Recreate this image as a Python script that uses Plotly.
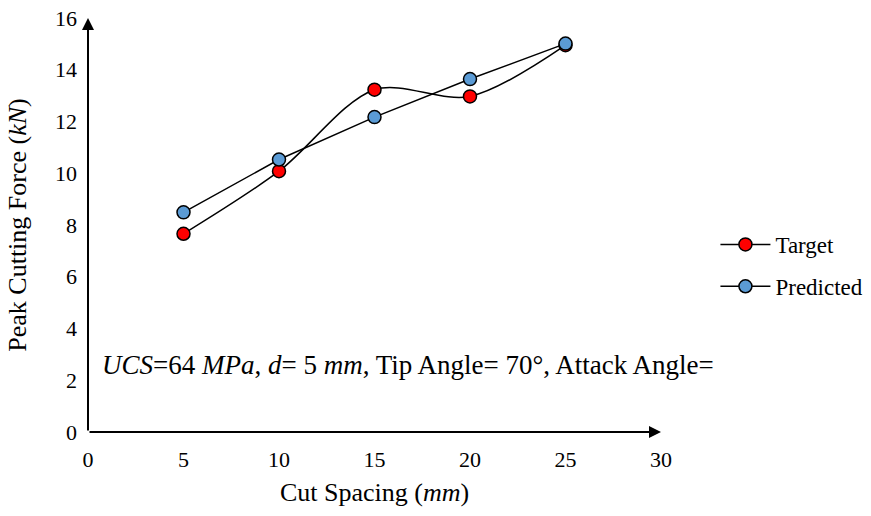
import plotly.graph_objects as go

# Cut spacing (mm) and peak cutting force (kN)
cut_spacing = [5, 10, 15, 20, 25]
target = [7.66, 10.08, 13.23, 12.97, 14.95]
predicted = [8.49, 10.53, 12.17, 13.64, 15.01]

x_ticks = [0, 5, 10, 15, 20, 25, 30]
y_ticks = [0, 2, 4, 6, 8, 10, 12, 14, 16]

FONT = "Times New Roman"

fig = go.Figure()
fig.add_trace(go.Scatter(
    x=cut_spacing, y=target, name="Target", mode="lines+markers", legendgroup="t",
    line=dict(color="black", width=1.5, shape="spline", smoothing=0.9),
    marker=dict(color="#FF0000", size=13, line=dict(color="black", width=1.5)),
))
fig.add_trace(go.Scatter(
    x=cut_spacing, y=predicted, name="Predicted", mode="lines+markers", legendgroup="p",
    line=dict(color="black", width=1.5),
    marker=dict(color="#5B9BD5", size=13, line=dict(color="black", width=1.5)),
))

# Axis lines with arrowheads
fig.add_annotation(x=30, y=0, ax=0, ay=0, xref="x", yref="y", axref="x", ayref="y",
                   showarrow=True, arrowhead=2, arrowsize=1.2, arrowwidth=2,
                   arrowcolor="black", text="")
fig.add_annotation(x=0, y=16, ax=0, ay=0, xref="x", yref="y", axref="x", ayref="y",
                   showarrow=True, arrowhead=2, arrowsize=1.2, arrowwidth=2,
                   arrowcolor="black", text="")

fig.add_annotation(
    x=0.62, y=2.59, xref="x", yref="y", xanchor="left", yanchor="middle",
    showarrow=False,
    text="<i>UCS</i>=64 <i>MPa</i>, <i>d</i>= 5 <i>mm</i>, Tip Angle= 70°, Attack Angle=",
    font=dict(family=FONT, size=27, color="black"),
)

fig.update_layout(
    width=871, height=516,
    margin=dict(l=88, r=210, t=18, b=84, autoexpand=False),
    paper_bgcolor="white", plot_bgcolor="white",
    font=dict(family=FONT, size=22, color="black"),
    showlegend=True,
    legend=dict(x=1.095, y=0.505, xanchor="left", yanchor="top", itemwidth=50,
                font=dict(family=FONT, size=23), tracegroupgap=9,
                bgcolor="rgba(0,0,0,0)"),
    xaxis=dict(range=[0, 30], tickvals=x_ticks, showgrid=False, zeroline=False,
               showline=False, ticks="", ticklabelstandoff=12,
               title=dict(text="Cut Spacing (<i>mm</i>)", standoff=11,
                          font=dict(family=FONT, size=26))),
    yaxis=dict(range=[0, 16], tickvals=y_ticks, showgrid=False, zeroline=False,
               showline=False, ticks="", ticklabelstandoff=10,
               title=dict(text="Peak Cutting Force (<i>kN</i>)", standoff=20,
                          font=dict(family=FONT, size=26))),
)

fig.write_html("out.html")
